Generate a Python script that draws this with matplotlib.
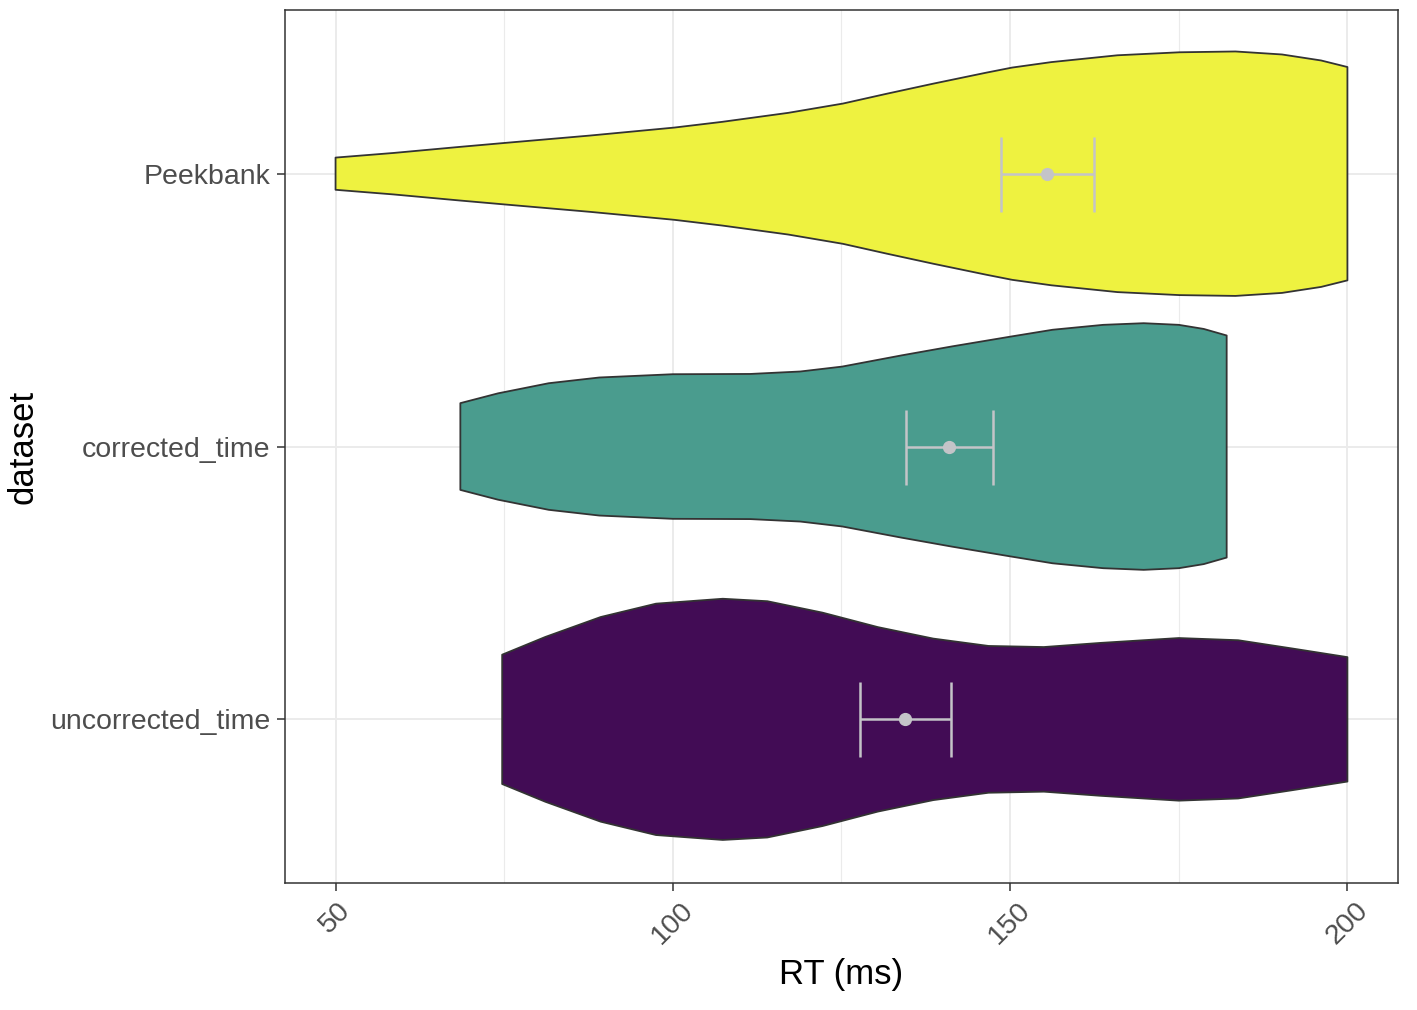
import numpy as np
import matplotlib
matplotlib.use("Agg")
import matplotlib.pyplot as plt

plt.rcParams['font.family'] = ['Liberation Sans', 'DejaVu Sans']

# categories, bottom to top
datasets = ['uncorrected_time', 'corrected_time', 'Peekbank']
fills = ['#420C55', '#4A9C8E', '#EEF240']

# violin outlines: RT (ms) and half width (category units)
peek_rt = [50, 58.6, 68.3, 75.2, 87.8, 100.2, 107.3, 117.1, 125.2, 131.7,
           138.6, 146.4, 150.3, 156.1, 165.9, 175.1, 183.4, 190.3, 196.1, 200]
peek_hw = [0.059, 0.076, 0.098, 0.113, 0.140, 0.169, 0.190, 0.223, 0.257, 0.293,
           0.330, 0.370, 0.389, 0.409, 0.434, 0.445, 0.448, 0.437, 0.415, 0.391]

corr_rt = [68.5, 74.1, 81.6, 89.1, 100.0, 111.5, 118.9, 125.1, 133.9, 141.4,
           150.1, 156.3, 163.8, 169.8, 175.0, 178.7, 182.1]
corr_hw = [0.159, 0.195, 0.232, 0.253, 0.265, 0.266, 0.275, 0.293, 0.334, 0.367,
           0.403, 0.428, 0.446, 0.452, 0.446, 0.431, 0.407]

unc_rt = [74.7, 81.1, 89.3, 97.5, 107.4, 114.0, 122.2, 130.4, 138.6, 146.8,
          155.0, 163.3, 175.0, 183.8, 192.0, 200.0]
unc_hw = [0.237, 0.302, 0.375, 0.424, 0.442, 0.433, 0.391, 0.338, 0.296, 0.269,
          0.265, 0.280, 0.298, 0.290, 0.259, 0.228]

# mean and interval
means = [134.4, 141.0, 155.5]
ci_lo = [127.7, 134.6, 148.7]
ci_hi = [141.2, 147.5, 162.5]

outlines = [(unc_rt, unc_hw), (corr_rt, corr_hw), (peek_rt, peek_hw)]

fig = plt.figure(figsize=(14.17, 10.10), dpi=100)
ax = fig.add_axes([0.2011, 0.1257, 0.7855, 0.8644])

for i, (rt, hw) in enumerate(outlines):
    pos = i + 1
    rt = np.asarray(rt)
    hw = np.asarray(hw)
    xs = np.concatenate([rt, rt[::-1]])
    ys = np.concatenate([pos + hw, (pos - hw)[::-1]])
    ax.fill(xs, ys, facecolor=fills[i], edgecolor='#333333', lw=1.3,
            joinstyle='round', zorder=3)

ypos = np.arange(1, len(datasets) + 1)
ax.errorbar(means, ypos, xerr=[np.array(means) - np.array(ci_lo), np.array(ci_hi) - np.array(means)],
            fmt='o', color='#C4C4C8', ms=8.5, elinewidth=1.8, capsize=27, capthick=1.8, zorder=4)

ax.set_xlim(42.5, 207.5)
ax.set_ylim(0.4, 3.6)
ax.set_xticks([50, 100, 150, 200])
ax.set_xticks([75, 125, 175], minor=True)
ax.set_yticks(ypos)
ax.set_yticklabels(datasets)

ax.grid(which='major', color='#EBEBEB', lw=1.4, zorder=0)
ax.grid(which='minor', axis='x', color='#EBEBEB', lw=0.8, zorder=0)
ax.set_axisbelow(True)

for s in ax.spines.values():
    s.set_color('#333333')
    s.set_linewidth(1.1)

ax.tick_params(axis='both', which='major', length=5.5, width=1.1, color='#333333',
               labelsize=20.5, labelcolor='#4D4D4D', pad=5)
ax.tick_params(axis='x', which='minor', length=0)
ax.tick_params(axis='x', labelrotation=45)

ax.set_xlabel('RT (ms)', fontsize=25, labelpad=6)
ax.set_ylabel('dataset', fontsize=25, labelpad=8)

fig.savefig('out.png', dpi=100)
